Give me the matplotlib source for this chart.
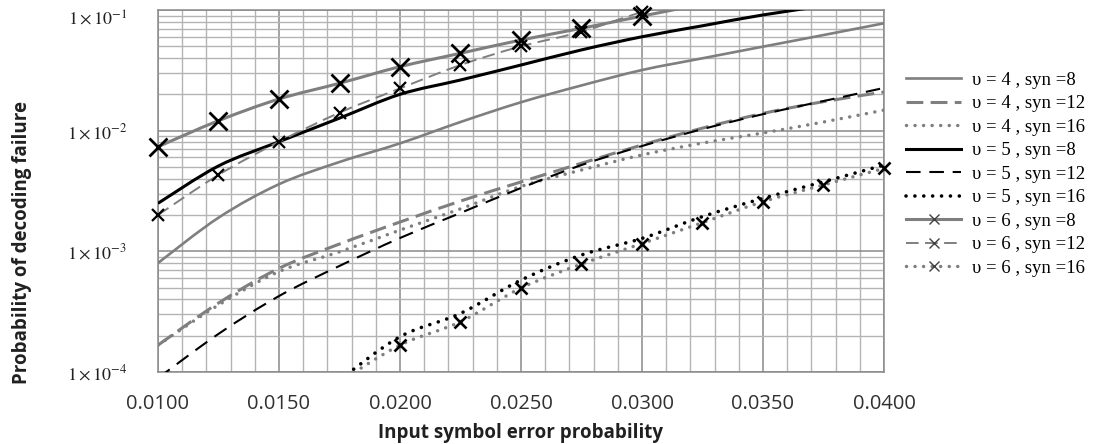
import numpy as np
import matplotlib
matplotlib.use("Agg")
import matplotlib.pyplot as plt
from matplotlib.lines import Line2D
from matplotlib.path import Path
from matplotlib.patches import PathPatch
from matplotlib.ticker import (MultipleLocator, LogLocator, FixedLocator,
                               FixedFormatter, NullFormatter, FuncFormatter)

plt.rcParams["mathtext.fontset"] = "stix"

nan = np.nan

# input symbol error probability (x) and decoding failure probability per curve
x_prob = [0.0100, 0.0125, 0.0150, 0.0175, 0.0200, 0.0225, 0.0250,
          0.0275, 0.0300, 0.0325, 0.0350, 0.0375, 0.0400]

v4_syn8 = [8.0e-4, 1.9e-3, 3.6e-3, 5.5e-3, 7.85e-3, 1.18e-2, 1.72e-2,
           2.37e-2, 3.18e-2, 3.98e-2, 4.97e-2, 6.2e-2, 7.76e-2]
v4_syn12 = [1.67e-4, 3.73e-4, 7.23e-4, 1.15e-3, 1.75e-3, 2.61e-3, 3.76e-3,
            5.37e-3, 7.61e-3, 1.05e-2, 1.39e-2, 1.74e-2, 2.09e-2]
v4_syn16 = [1.67e-4, 3.59e-4, 6.8e-4, 9.9e-4, 1.5e-3, 2.25e-3, 3.45e-3,
            4.72e-3, 6.29e-3, 7.9e-3, 9.57e-3, 1.18e-2, 1.48e-2]
v5_syn8 = [2.5e-3, 5.1e-3, 8.1e-3, 1.27e-2, 2.0e-2, 2.63e-2, 3.5e-2,
           4.67e-2, 6.0e-2, 7.4e-2, 9.1e-2, 1.08e-1, nan]
v5_syn12 = [8.9e-5, 2.07e-4, 4.26e-4, 7.57e-4, 1.29e-3, 2.08e-3, 3.35e-3,
            5.19e-3, 7.46e-3, 1.03e-2, 1.37e-2, 1.76e-2, 2.26e-2]
v5_syn16 = [nan, nan, nan, 8.6e-5, 1.96e-4, 3.06e-4, 5.78e-4,
            9.33e-4, 1.28e-3, 1.94e-3, 2.75e-3, 3.77e-3, 5.19e-3]
v6_syn8 = [7.36e-3, 1.21e-2, 1.83e-2, 2.47e-2, 3.39e-2, 4.38e-2, 5.64e-2,
           7.05e-2, 8.9e-2, 1.12e-1, nan, nan, nan]
v6_syn12 = [2.0e-3, 4.3e-3, 8.1e-3, 1.41e-2, 2.24e-2, 3.5e-2, 5.0e-2,
            6.6e-2, 9.6e-2, 1.25e-1, nan, nan, nan]
v6_syn16 = [nan, nan, nan, 8.3e-5, 1.67e-4, 2.61e-4, 4.96e-4,
            7.85e-4, 1.16e-3, 1.73e-3, 2.58e-3, 3.55e-3, 4.87e-3]

labels = ["υ = 4 , syn =8", "υ = 4 , syn =12", "υ = 4 , syn =16",
          "υ = 5 , syn =8", "υ = 5 , syn =12", "υ = 5 , syn =16",
          "υ = 6 , syn =8", "υ = 6 , syn =12", "υ = 6 , syn =16"]
y_ticks = [1e-4, 1e-3, 1e-2, 1e-1]
y_tick_labels = [r"$1\times10^{-4}$", r"$1\times10^{-3}$",
                 r"$1\times10^{-2}$", r"$1\times10^{-1}$"]

GRAY = "#7f7f7f"
DOT = (0.01, 2.45)

# style per curve: color, lw, dashes, marker size, marker edge width
styles = [
    dict(color=GRAY, lw=1.9, dashes=None, ms=0, mew=0),
    dict(color=GRAY, lw=2.2, dashes=(5.5, 2.4), ms=0, mew=0),
    dict(color=GRAY, lw=2.5, dashes=DOT, ms=0, mew=0),
    dict(color="black", lw=2.2, dashes=None, ms=0, mew=0),
    dict(color="black", lw=1.5, dashes=(7.0, 4.2), ms=0, mew=0),
    dict(color="black", lw=2.6, dashes=DOT, ms=0, mew=0),
    dict(color=GRAY, lw=2.2, dashes=None, ms=12.5, mew=2.0),
    dict(color=GRAY, lw=1.4, dashes=(6.5, 3.3), ms=8.5, mew=1.6),
    dict(color=GRAY, lw=2.5, dashes=DOT, ms=8.5, mew=1.9),
]
series = [v4_syn8, v4_syn12, v4_syn16, v5_syn8, v5_syn12, v5_syn16,
          v6_syn8, v6_syn12, v6_syn16]


def smooth_path(xs, ys):
    # Excel-like smoothed line: cubic Bezier through the points, built in (x, log y)
    xs = np.asarray(xs, float)
    ls = np.log10(np.asarray(ys, float))
    pts = np.column_stack([xs, ls])
    n = len(pts)
    verts = [pts[0]]
    codes = [Path.MOVETO]
    for i in range(n - 1):
        p0 = pts[i - 1] if i > 0 else pts[i]
        p1, p2 = pts[i], pts[i + 1]
        p3 = pts[i + 2] if i + 2 < n else p2
        verts += [p1 + (p2 - p0) / 6, p2 - (p3 - p1) / 6, p2]
        codes += [Path.CURVE4] * 3
    verts = np.array(verts)
    verts[:, 1] = 10 ** verts[:, 1]
    return Path(verts, codes)


fig = plt.figure(figsize=(10.98, 4.44), dpi=100)
ax = fig.add_axes([158 / 1098, 1 - 372 / 444, (884 - 158) / 1098, (372 - 10) / 444])

ylo, yhi = 1e-4, 1e-1
handles = []
for vals, st, lab in zip(series, styles, labels):
    y = np.array(vals, dtype=float)
    xa = np.array(x_prob)
    fin = np.isfinite(y)
    ls = "-" if st["dashes"] is None else (0, st["dashes"])
    cap = "round" if st["dashes"] is DOT else "butt"
    patch = PathPatch(smooth_path(xa[fin], y[fin]), fill=False,
                      edgecolor=st["color"], lw=st["lw"], linestyle=ls,
                      capstyle=cap, joinstyle="round", zorder=3)
    ax.add_patch(patch)
    if st["ms"]:
        ok = fin & (y >= ylo * 0.999) & (y <= yhi * 1.001)
        ax.plot(xa[ok], y[ok], ls="none", marker="x",
                ms=st["ms"], mew=st["mew"], color="black", zorder=4,
                clip_on=False)
    h = Line2D([], [], color=st["color"], lw=st["lw"],
               marker="x" if st["ms"] else None, ms=6.5, mew=1.0,
               mec="#404040")
    if st["dashes"] is not None:
        h.set_dashes(st["dashes"])
        h.set_dash_capstyle(cap)
    handles.append(h)

ax.set_yscale("log")
ax.set_xlim(0.01, 0.04)
ax.set_ylim(ylo, yhi)

ax.xaxis.set_major_locator(MultipleLocator(0.005))
ax.xaxis.set_minor_locator(MultipleLocator(0.001))
ax.xaxis.set_major_formatter(FuncFormatter(lambda v, p: f"{v:.4f}"))
ax.yaxis.set_major_locator(FixedLocator(y_ticks))
ax.yaxis.set_major_formatter(FixedFormatter(y_tick_labels))
ax.yaxis.set_minor_locator(LogLocator(base=10, subs=np.arange(2, 10)))
ax.yaxis.set_minor_formatter(NullFormatter())

ax.grid(which="major", color="#8a8a8a", lw=1.1, zorder=1)
ax.grid(which="minor", color="#b4b4b4", lw=1.0, zorder=1)
ax.set_axisbelow(True)
for s in ax.spines.values():
    s.set_color("#8a8a8a")
    s.set_linewidth(1.1)

ax.tick_params(which="both", length=0)
ax.tick_params(axis="x", pad=16)
ax.tick_params(axis="y", pad=22)
for t in ax.get_xticklabels():
    t.set_fontfamily("Open Sans")
    t.set_fontsize(14.5)
    t.set_color("#303030")
for t in ax.get_yticklabels():
    t.set_fontsize(13)
    t.set_color("#202020")
top_lab = ax.get_yticklabels()[-1]
top_lab.set_va("top")

fig.text(22 / 1098, 1 - 243 / 444, "Probability of decoding failure",
         rotation=90, ha="center", va="center", fontsize=13.5,
         fontweight="bold", family="Open Sans", color="#202020")
fig.text(521 / 1098, 1 - 433 / 444, "Input symbol error probability",
         ha="center", va="center", fontsize=13.5, fontweight="bold",
         family="Open Sans", color="#202020")

fig.legend(handles, labels, loc="upper left",
           bbox_to_anchor=(906 / 1098, 1 - 71.5 / 444), frameon=False,
           borderpad=0, borderaxespad=0, handlelength=2.95,
           handletextpad=0.55, labelspacing=0.34,
           prop=dict(family="Liberation Serif", size=13.5))

fig.savefig("out.png", dpi=100)
